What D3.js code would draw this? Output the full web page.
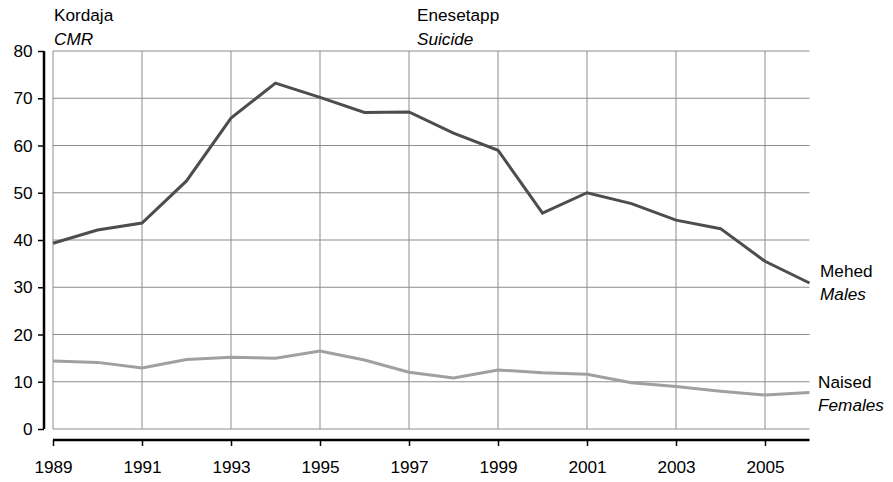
<!DOCTYPE html>
<html><head><meta charset="utf-8">
<script src="https://cdn.jsdelivr.net/npm/d3@7"></script>
<style>body{margin:0;background:#fff}text{font-family:"Liberation Sans",Arial,sans-serif}</style>
</head><body>
<svg id="c" width="893" height="482"></svg>
<script>
const years = [1989,1990,1991,1992,1993,1994,1995,1996,1997,1998,1999,2000,2001,2002,2003,2004,2005,2006];
const males = [39.3,42.1,43.6,52.5,65.8,73.2,70.2,67.0,67.1,62.6,59.0,45.7,50.0,47.7,44.2,42.4,35.5,30.9];
const females = [14.4,14.1,12.9,14.7,15.2,15.0,16.5,14.6,12.0,10.8,12.5,11.9,11.6,9.8,9.0,8.0,7.2,7.7];
const xTicks = [1989,1991,1993,1995,1997,1999,2001,2003,2005];
const yTicks = [0,10,20,30,40,50,60,70,80];

const FS = 17.2;
const svg = d3.select("#c");
const x = d3.scaleLinear().domain([1989,2006]).range([53,809.5]);
const y = d3.scaleLinear().domain([0,80]).range([429,51]);

// grid
const g = svg.append("g");
g.selectAll(".h").data(yTicks).enter().append("line")
  .attr("x1",53).attr("x2",809.5).attr("y1",d=>y(d)).attr("y2",d=>y(d))
  .attr("stroke","#8c8c8c").attr("stroke-width",1);
g.selectAll(".v").data(xTicks).enter().append("line")
  .attr("x1",d=>x(d)).attr("x2",d=>x(d)).attr("y1",y(80)).attr("y2",y(0))
  .attr("stroke","#8c8c8c").attr("stroke-width",1);

// y axis
const yAxis = d3.axisLeft(y).tickValues(yTicks).tickSize(6).tickPadding(5.5);
const ya = svg.append("g").attr("transform","translate(44,0)").call(yAxis);
ya.select(".domain").attr("stroke","#000").attr("stroke-width",2.5).attr("d",`M0,${y(80)}V${y(0)}`);
ya.selectAll(".tick line").attr("stroke","#000").attr("stroke-width",1.5);
ya.selectAll("text").attr("font-size",FS).attr("fill","#000").style("font-family","Liberation Sans, Arial, sans-serif");

// x axis
const xAxis = d3.axisBottom(x).tickValues(xTicks).tickFormat(d3.format("d")).tickSize(6).tickPadding(14.5);
const xa = svg.append("g").attr("transform","translate(0,440)").call(xAxis);
xa.select(".domain").attr("stroke","#000").attr("stroke-width",2.5).attr("d",`M${x(1989)},0H${x(2006)}`);
xa.selectAll(".tick line").attr("stroke","#000").attr("stroke-width",1.5);
xa.selectAll("text").attr("font-size",FS).attr("fill","#000").style("font-family","Liberation Sans, Arial, sans-serif");

// lines
const line = d3.line().x((d,i)=>x(years[i])).y(d=>y(d));
svg.append("path").datum(females).attr("d",line).attr("fill","none").attr("stroke","#a0a0a0").attr("stroke-width",3);
svg.append("path").datum(males).attr("d",line).attr("fill","none").attr("stroke","#4d4d4d").attr("stroke-width",3);

// labels
const lbl = (t,xx,yy,it)=>svg.append("text").attr("x",xx).attr("y",yy).attr("font-size",FS)
  .attr("font-style",it?"italic":"normal").attr("fill","#000").text(t);
lbl("Kordaja",54,21,false);
lbl("CMR",54,45,true);
lbl("Enesetapp",417,21,false);
lbl("Suicide",417,45,true);
lbl("Mehed",820,277,false);
lbl("Males",820,300,true);
lbl("Naised",818,388,false);
lbl("Females",818,411,true);
</script>
</body></html>
